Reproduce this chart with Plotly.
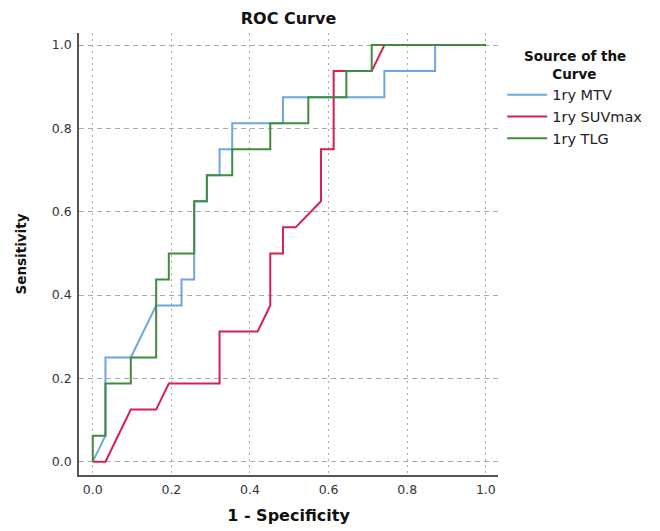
import plotly.graph_objects as go

# ROC curve points (1 - specificity, sensitivity)
mtv_fpr = [0.0, 0.0323, 0.0323, 0.0968, 0.1613, 0.2258, 0.2258, 0.2581, 0.2581, 0.2903, 0.2903,
           0.3226, 0.3226, 0.3548, 0.3548, 0.4839, 0.4839, 0.7419, 0.7419, 0.8710, 0.8710, 1.0]
mtv_tpr = [0.0, 0.0625, 0.25, 0.25, 0.375, 0.375, 0.4375, 0.4375, 0.625, 0.625, 0.6875,
           0.6875, 0.75, 0.75, 0.8125, 0.8125, 0.875, 0.875, 0.9375, 0.9375, 1.0, 1.0]

suv_fpr = [0.0, 0.0323, 0.0968, 0.1613, 0.1935, 0.3226, 0.3226, 0.4194, 0.4516, 0.4516, 0.4839,
           0.4839, 0.5161, 0.5806, 0.5806, 0.6129, 0.6129, 0.7097, 0.7419, 1.0]
suv_tpr = [0.0, 0.0, 0.125, 0.125, 0.1875, 0.1875, 0.3125, 0.3125, 0.375, 0.5, 0.5,
           0.5625, 0.5625, 0.625, 0.75, 0.75, 0.9375, 0.9375, 1.0, 1.0]

tlg_fpr = [0.0, 0.0, 0.0323, 0.0323, 0.0968, 0.0968, 0.1613, 0.1613, 0.1935, 0.1935, 0.2581,
           0.2581, 0.2903, 0.2903, 0.3548, 0.3548, 0.4516, 0.4516, 0.5484, 0.5484, 0.6452,
           0.6452, 0.7097, 0.7097, 1.0]
tlg_tpr = [0.0, 0.0625, 0.0625, 0.1875, 0.1875, 0.25, 0.25, 0.4375, 0.4375, 0.5, 0.5,
           0.625, 0.625, 0.6875, 0.6875, 0.75, 0.75, 0.8125, 0.8125, 0.875, 0.875,
           0.9375, 0.9375, 1.0, 1.0]

series_names = ["1ry MTV", "1ry SUVmax", "1ry TLG"]
series_colors = ["#6fa6de", "#d42052", "#3f8b3f"]
tick_vals = [0.0, 0.2, 0.4, 0.6, 0.8, 1.0]
tick_text = ["0.0", "0.2", "0.4", "0.6", "0.8", "1.0"]

FONT = "DejaVu Sans"
NB = "&nbsp;"

fig = go.Figure()
for name, xs, ys, col in zip(series_names,
                             [mtv_fpr, suv_fpr, tlg_fpr],
                             [mtv_tpr, suv_tpr, tlg_tpr],
                             series_colors):
    fig.add_trace(go.Scatter(x=xs, y=ys, mode="lines", name=name,
                             line=dict(color=col, width=2)))

# the page body adds an 8px offset, so margins are reduced by 8 on left/top
fig.update_layout(
    width=660, height=531,
    margin=dict(l=71, r=170, t=25, b=64, autoexpand=False),
    paper_bgcolor="white", plot_bgcolor="white",
    font=dict(family=FONT, size=12.5, color="#333333"),
    title=dict(text="<b>ROC Curve</b>", x=0.5, xref="paper", y=1 - 10 / 531,
               yref="container", xanchor="center", yanchor="middle",
               font=dict(family=FONT, size=16, color="#111111")),
    legend=dict(
        x=1.01, y=0.976, xanchor="left", yanchor="top",
        font=dict(family=FONT, size=14.5, color="#222222"),
        title=dict(text="<b>Source of the<br>" + NB * 6 + "Curve</b>", side="top center",
                   font=dict(family=FONT, size=13.5, color="#111111")),
        bgcolor="rgba(0,0,0,0)", tracegroupgap=0, itemwidth=40,
    ),
)

fig.update_xaxes(
    range=[-0.035, 1.031], tickvals=tick_vals, ticktext=tick_text,
    showgrid=True, gridcolor="#aaaaaa", griddash="2px,4px", gridwidth=1,
    zeroline=False, showline=True, linecolor="#555555", linewidth=1.5,
    ticks="outside", ticklen=2, tickcolor="rgba(0,0,0,0)",
    title=dict(text="<b>1 - Specificity</b>", standoff=14,
               font=dict(family=FONT, size=16, color="#111111")),
)
fig.update_yaxes(
    range=[-0.032, 1.029], tickvals=tick_vals, ticktext=tick_text,
    showgrid=True, gridcolor="#aaaaaa", griddash="5px,4px", gridwidth=1,
    zeroline=False, showline=True, linecolor="#555555", linewidth=1.5,
    ticks="outside", ticklen=3, tickcolor="rgba(0,0,0,0)",
    title=dict(text="<b>Sensitivity</b>", standoff=22,
               font=dict(family=FONT, size=13.5, color="#111111")),
)

fig.write_html("out.html")
